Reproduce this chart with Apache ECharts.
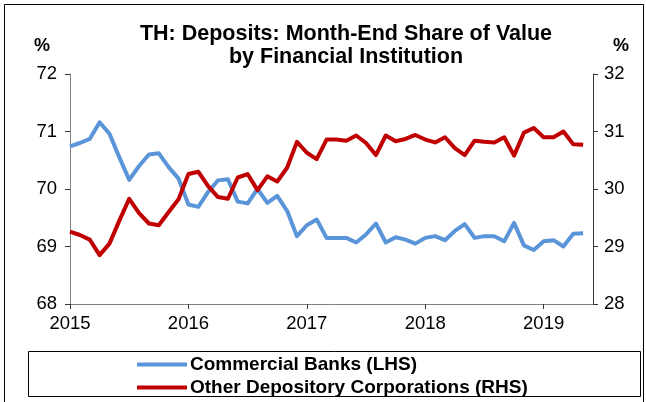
<!DOCTYPE html>
<html>
<head>
<meta charset="utf-8">
<script src="https://cdn.jsdelivr.net/npm/echarts@6/dist/echarts.min.js"></script>
<style>
  html, body { margin: 0; padding: 0; background: #fff; }
  #chart { width: 646px; height: 402px; }
</style>
</head>
<body>
<div id="chart"></div>
<script>
// Month-end share of deposit value, Jan 2015 - May 2019
const startYear = 2015;
const monthCount = 54; // axis runs through Jun 2019
const yearTicks = ['2015', '2016', '2017', '2018', '2019'];
const seriesNames = ['Commercial Banks (LHS)', 'Other Depository Corporations (RHS)'];

const commercialBanks = [
  70.74, 70.80, 70.87, 71.16, 70.96, 70.55, 70.16, 70.40, 70.60, 70.62, 70.38, 70.18,
  69.73, 69.69, 69.95, 70.15, 70.17, 69.78, 69.75, 70.00, 69.76, 69.88, 69.62, 69.18,
  69.37, 69.47, 69.15, 69.15, 69.15, 69.07, 69.21, 69.40, 69.07, 69.16, 69.12, 69.05,
  69.15, 69.18, 69.11, 69.27, 69.39, 69.15, 69.18, 69.18, 69.09, 69.41, 69.02, 68.94,
  69.09, 69.11, 69.00, 69.22, 69.23
];

const otherDepository = [
  29.26, 29.20, 29.12, 28.85, 29.05, 29.45, 29.83, 29.58, 29.40, 29.37, 29.60, 29.82,
  30.26, 30.30, 30.05, 29.86, 29.83, 30.20, 30.26, 29.98, 30.22, 30.13, 30.37, 30.82,
  30.63, 30.52, 30.86, 30.86, 30.84, 30.93, 30.80, 30.59, 30.93, 30.83, 30.87, 30.94,
  30.86, 30.81, 30.90, 30.71, 30.59, 30.84, 30.82, 30.81, 30.90, 30.58, 30.98, 31.06,
  30.90, 30.90, 31.00, 30.78, 30.77
];

const months = [];
for (let i = 0; i < monthCount; i++) {
  const y = startYear + Math.floor(i / 12);
  const m = (i % 12) + 1;
  months.push(y + '-' + (m < 10 ? '0' + m : m));
}

const FONT = '"Liberation Sans", Arial, sans-serif';
const axisGrey = '#808080';
const blue = '#5B95D9';
const red = '#C00000';

function legendFor(name, top) {
  return {
    orient: 'vertical',
    left: 137,
    top: top,
    padding: 0,
    itemWidth: 50,
    itemHeight: 4,
    icon: 'rect',
    textStyle: { color: '#000', fontSize: 19, fontWeight: 'bold', fontFamily: FONT, padding: [0, 0, 0, -2] },
    data: [name]
  };
}

const chart = echarts.init(document.getElementById('chart'), null, { renderer: 'canvas' });

chart.setOption({
  animation: false,
  backgroundColor: '#fff',
  textStyle: { fontFamily: FONT },
  grid: { left: 70, right: 53, top: 74, bottom: 98, containLabel: false },
  xAxis: {
    type: 'category',
    data: months,
    boundaryGap: false,
    axisLine: { lineStyle: { color: axisGrey, width: 1 } },
    axisTick: {
      length: 5,
      interval: (idx) => idx % 12 === 0,
      lineStyle: { color: '#333' }
    },
    axisLabel: {
      interval: (idx) => idx % 12 === 0,
      formatter: (val, idx) => yearTicks[idx / 12] || '',
      color: '#000',
      fontSize: 18.5,
      fontFamily: FONT,
      margin: 10
    },
    splitLine: { show: false }
  },
  yAxis: [
    {
      type: 'value',
      min: 68, max: 72, interval: 1,
      position: 'left',
      axisLine: { show: true, lineStyle: { color: axisGrey, width: 1 } },
      axisTick: { show: true, length: 5, lineStyle: { color: '#333' } },
      axisLabel: { color: '#000', fontSize: 18.5, fontFamily: FONT, margin: 13 },
      splitLine: { show: false }
    },
    {
      type: 'value',
      min: 28, max: 32, interval: 1,
      position: 'right',
      axisLine: { show: true, lineStyle: { color: '#333', width: 1 } },
      axisTick: { show: true, length: 5, lineStyle: { color: '#333' } },
      axisLabel: { color: '#000', fontSize: 18.5, fontFamily: FONT, margin: 11 },
      splitLine: { show: false }
    }
  ],
  legend: [legendFor(seriesNames[0], 355), legendFor(seriesNames[1], 378)],
  series: [
    {
      name: seriesNames[0],
      type: 'line',
      yAxisIndex: 0,
      data: commercialBanks,
      symbol: 'none',
      lineStyle: { color: blue, width: 4, join: 'round' },
      itemStyle: { color: blue }
    },
    {
      name: seriesNames[1],
      type: 'line',
      yAxisIndex: 1,
      data: otherDepository,
      symbol: 'none',
      lineStyle: { color: red, width: 4, join: 'round' },
      itemStyle: { color: red }
    }
  ],
  graphic: [
    {
      type: 'rect',
      shape: { x: 4.5, y: 4.5, width: 639, height: 420 },
      style: { fill: 'none', stroke: '#000', lineWidth: 1 },
      silent: true, z: -1
    },
    {
      type: 'rect',
      shape: { x: 28.5, y: 351.5, width: 612, height: 45 },
      style: { fill: 'none', stroke: '#000', lineWidth: 1 },
      silent: true
    },
    {
      type: 'text',
      x: 346, y: 23,
      style: {
        text: 'TH: Deposits: Month-End Share of Value\nby Financial Institution',
        font: 'bold 21.5px ' + FONT,
        fill: '#000',
        align: 'center',
        lineHeight: 23
      }
    },
    {
      type: 'text',
      x: 42, y: 37,
      style: { text: '%', font: 'bold 18px ' + FONT, fill: '#000', align: 'center' }
    },
    {
      type: 'text',
      x: 621, y: 37,
      style: { text: '%', font: 'bold 18px ' + FONT, fill: '#000', align: 'center' }
    }
  ]
});
</script>
</body>
</html>
